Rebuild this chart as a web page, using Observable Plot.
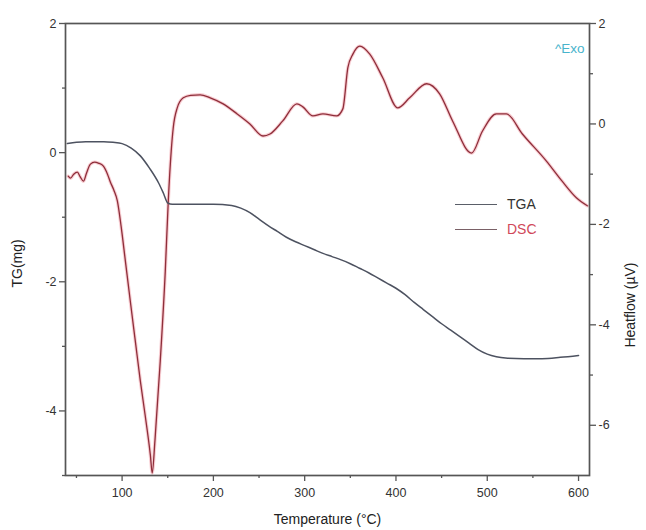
<!DOCTYPE html>
<html>
<head>
<meta charset="utf-8">
<script src="https://cdn.jsdelivr.net/npm/d3@7"></script>
<script src="https://cdn.jsdelivr.net/npm/@observablehq/plot@0.6"></script>
<style>
  html, body { margin: 0; padding: 0; background: #fff; }
  #wrap { position: relative; width: 646px; height: 530px; font-family: "Liberation Sans", Arial, sans-serif; }
  .leg { position: absolute; font-size: 14px; line-height: 14px; }
  .legline { position: absolute; height: 0; border-top: 1.6px solid #666; }
</style>
</head>
<body>
<div id="wrap"></div>
<script>
// TGA (left axis, mg)
const tgaTemp = [40,50,60,70,80,90,100,110,120,130,140,145,150,155,160,180,200,220,230,240,250,260,270,280,290,300,310,320,330,340,350,360,370,380,390,400,410,420,430,440,450,460,470,480,490,500,510,520,540,560,580,600];
const tgaVal  = [0.14,0.16,0.17,0.17,0.17,0.16,0.14,0.07,-0.05,-0.24,-0.47,-0.62,-0.78,-0.80,-0.80,-0.80,-0.80,-0.82,-0.86,-0.93,-1.03,-1.13,-1.22,-1.31,-1.38,-1.44,-1.50,-1.56,-1.61,-1.66,-1.72,-1.79,-1.86,-1.94,-2.02,-2.10,-2.20,-2.32,-2.43,-2.54,-2.65,-2.75,-2.85,-2.95,-3.05,-3.12,-3.16,-3.18,-3.19,-3.19,-3.17,-3.14];

// DSC (right axis, µV)
const dscTemp = [41,43.5,47,51,54,57.7,61,65.3,70,74,79.5,84,87,91,94.8,99,103.6,109,115,120,125.4,131,133,136,141.8,147.3,150.6,153.8,156,160.4,167,175,185.5,196.5,210.7,226,240,254.4,262,276,291.5,298,309,320,335,341.8,347.3,352.8,360.4,371.3,385.5,402,415,433.6,447.8,462,482.8,494.8,510,521,538.5,564.8,582,597.6,609.6];
const dscVal  = [-1.04,-1.08,-1.00,-0.96,-1.05,-1.14,-0.98,-0.80,-0.76,-0.78,-0.84,-1.00,-1.15,-1.32,-1.53,-2.05,-2.73,-3.53,-4.40,-5.12,-5.82,-6.60,-6.95,-6.30,-4.72,-2.93,-1.53,-0.54,-0.08,0.32,0.52,0.57,0.58,0.52,0.40,0.20,0.00,-0.24,-0.20,0.06,0.40,0.34,0.16,0.20,0.16,0.30,1.12,1.39,1.55,1.39,0.92,0.32,0.52,0.80,0.60,0.06,-0.58,-0.14,0.20,0.20,-0.20,-0.74,-1.14,-1.47,-1.63];

const xTicks = [100,200,300,400,500,600];
const xMinor = [50,150,250,350,450,550];
const leftTicks = [2,0,-2,-4];
const leftMinor = [1,-1,-3,-5];
const rightTicks = [2,0,-2,-4,-6];
const rightMinor = [1,-1,-3,-5];

const tgDomain = [-5, 2];
const dscDomain = [-7, 2];
// map DSC units onto the TG (left) scale
const toTG = v => tgDomain[0] + (v - dscDomain[0]) * (tgDomain[1] - tgDomain[0]) / (dscDomain[1] - dscDomain[0]);
const fromTG = v => dscDomain[0] + (v - tgDomain[0]) * (dscDomain[1] - dscDomain[0]) / (tgDomain[1] - tgDomain[0]);

const tga = tgaTemp.map((t, i) => ({t, v: tgaVal[i]}));
const dsc = dscTemp.map((t, i) => ({t, v: toTG(dscVal[i])}));

const fmt = d => String(Math.round(d));

const chart = Plot.plot({
  width: 646,
  height: 530,
  marginTop: 23,
  marginBottom: 55,
  marginLeft: 65,
  marginRight: 57,
  style: {fontFamily: "'Liberation Sans', Arial, sans-serif", fontSize: "12.5px", color: "#333", background: "#fff"},
  x: {domain: [38, 612]},
  y: {domain: tgDomain},
  marks: [
    Plot.line(dsc, {x: "t", y: "v", stroke: "#ec7480", strokeWidth: 3.4, strokeOpacity: 0.35, curve: "monotone-x"}),
    Plot.line(dsc, {x: "t", y: "v", stroke: "#8e2e3a", strokeWidth: 1.3, curve: "monotone-x"}),
    Plot.line(tga, {x: "t", y: "v", stroke: "#4d5260", strokeWidth: 1.5, curve: "monotone-x"}),
    Plot.frame({stroke: "#555", strokeWidth: 1.7}),
    Plot.axisX({ticks: xTicks, tickSize: 6, tickPadding: 7, label: null, stroke: "#555", strokeWidth: 1.3, fill: "#333"}),
    Plot.axisX({ticks: xMinor, tickSize: 3, tickFormat: () => "", label: null, stroke: "#555", strokeWidth: 1.3}),
    Plot.axisY({anchor: "left", ticks: leftTicks, tickSize: 6, tickPadding: 3, label: null, stroke: "#555", strokeWidth: 1.3, fill: "#333", tickFormat: fmt}),
    Plot.axisY({anchor: "left", ticks: leftMinor, tickSize: 3, tickFormat: () => "", label: null, stroke: "#555", strokeWidth: 1.3}),
    Plot.axisY({anchor: "right", ticks: rightTicks.map(toTG), tickSize: 6, tickPadding: 3, label: null, stroke: "#555", strokeWidth: 1.3, fill: "#333", tickFormat: d => fmt(fromTG(d))}),
    Plot.axisY({anchor: "right", ticks: rightMinor.map(toTG), tickSize: 3, tickFormat: () => "", label: null, stroke: "#555", strokeWidth: 1.3}),
    Plot.text(["Temperature (°C)"], {frameAnchor: "bottom", dy: 48, fontSize: 14, fill: "#222"}),
    Plot.text(["TG(mg)"], {frameAnchor: "left", dx: -48, dy: 38, rotate: -90, fontSize: 14, fill: "#222"}),
    Plot.text(["Heatflow (µV)"], {frameAnchor: "right", dx: 41, dy: 13, rotate: -90, fontSize: 14, fill: "#222"}),
    Plot.text(["^Exo"], {frameAnchor: "top-right", dx: -5, dy: 20, fontSize: 13.5, fill: "#48b4cc", textAnchor: "end"})
  ]
});
const wrap = document.getElementById("wrap");
wrap.appendChild(chart);

// legend
const legend = [
  {name: "TGA", color: "#333", line: "#5a5e68", y: 204},
  {name: "DSC", color: "#d0485a", line: "#7a6066", y: 229}
];
for (const l of legend) {
  const ln = document.createElement("div");
  ln.className = "legline";
  ln.style.left = "455px"; ln.style.width = "42px"; ln.style.top = l.y + "px";
  ln.style.borderTopColor = l.line;
  wrap.appendChild(ln);
  const tx = document.createElement("div");
  tx.className = "leg";
  tx.textContent = l.name;
  tx.style.left = "507px"; tx.style.top = (l.y - 7) + "px"; tx.style.color = l.color;
  wrap.appendChild(tx);
}
</script>
</body>
</html>
